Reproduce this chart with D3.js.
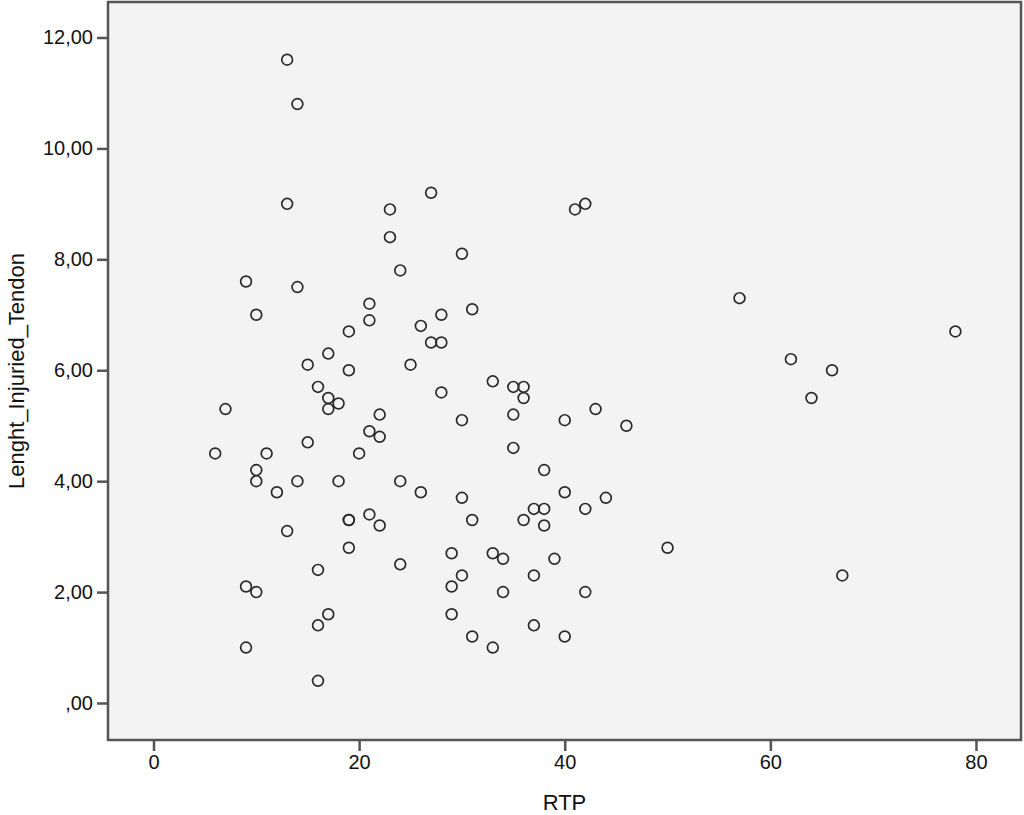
<!DOCTYPE html>
<meta charset="utf-8">
<script src="https://d3js.org/d3.v7.min.js"></script>
<style>
  body { margin: 0; background: #fff; }
  text { font-family: "Liberation Sans", Arial, Helvetica, sans-serif; fill: #111; }
</style>
<div id="my_dataviz"></div>
<script>
// values
var rtp = [13,14,13,27,23,41,42,23,30,24,9,14,57,21,31,10,28,21,26,19,78,27,28,17,62,15,25,19,66,33,
           16,35,36,28,17,36,64,18,7,17,43,22,35,30,40,46,21,22,15,35,6,11,20,10,38,10,14,18,24,12,
           26,40,30,44,37,38,42,21,19,19,31,36,22,38,13,19,50,29,33,34,39,24,16,30,37,67,9,29,10,34,
           42,17,29,16,37,31,40,9,33,16];
var lengthTendon = [11.6,10.8,9.0,9.2,8.9,8.9,9.0,8.4,8.1,7.8,7.6,7.5,7.3,7.2,7.1,7.0,7.0,6.9,6.8,6.7,6.7,6.5,6.5,6.3,6.2,6.1,6.1,6.0,6.0,5.8,
           5.7,5.7,5.7,5.6,5.5,5.5,5.5,5.4,5.3,5.3,5.3,5.2,5.2,5.1,5.1,5.0,4.9,4.8,4.7,4.6,4.5,4.5,4.5,4.2,4.2,4.0,4.0,4.0,4.0,3.8,
           3.8,3.8,3.7,3.7,3.5,3.5,3.5,3.4,3.3,3.3,3.3,3.3,3.2,3.2,3.1,2.8,2.8,2.7,2.7,2.6,2.6,2.5,2.4,2.3,2.3,2.3,2.1,2.1,2.0,2.0,
           2.0,1.6,1.6,1.4,1.4,1.2,1.2,1.0,1.0,0.4];
var xTicks = [0, 20, 40, 60, 80];
var yTicks = [0, 2, 4, 6, 8, 10, 12];
var yTickLabels = [",00", "2,00", "4,00", "6,00", "8,00", "10,00", "12,00"];

var data = rtp.map(function(d, i) { return {rtp: d, len: lengthTendon[i]}; });

var margin = {top: 2, right: 3, bottom: 75, left: 108},
    width = 1024 - margin.left - margin.right,
    height = 815 - margin.top - margin.bottom;

var svg = d3.select("#my_dataviz")
  .append("svg")
    .attr("width", 1024)
    .attr("height", 815)
  .append("g")
    .attr("transform", "translate(" + margin.left + "," + margin.top + ")");

var x = d3.scaleLinear()
  .domain([-4.426, 84.38])
  .range([0, width]);

var y = d3.scaleLinear()
  .domain([-0.667, 12.64])
  .range([height, 0]);

// plot background
svg.append("rect")
  .attr("width", width)
  .attr("height", height)
  .attr("fill", "#f3f3f3");

// X axis
var xAxis = svg.append("g")
  .attr("transform", "translate(0," + height + ")")
  .call(d3.axisBottom(x).tickValues(xTicks).tickSize(11).tickPadding(4).tickFormat(d3.format("d")));
xAxis.select(".domain").remove();
xAxis.selectAll("line").attr("stroke", "#555").attr("stroke-width", 2.5);
xAxis.selectAll("text").attr("font-size", "20px").attr("fill", "#111");

// Y axis
var yAxis = svg.append("g")
  .call(d3.axisLeft(y).tickValues(yTicks).tickSize(11).tickPadding(4)
    .tickFormat(function(d, i) { return yTickLabels[i]; }));
yAxis.select(".domain").remove();
yAxis.selectAll("line").attr("stroke", "#555").attr("stroke-width", 2.5);
yAxis.selectAll("text").attr("font-size", "20px").attr("fill", "#111");

// frame
svg.append("rect")
  .attr("width", width)
  .attr("height", height)
  .attr("fill", "none")
  .attr("stroke", "#555")
  .attr("stroke-width", 2.5);

// dots
svg.append("g")
  .selectAll("circle")
  .data(data)
  .enter()
  .append("circle")
    .attr("cx", function(d) { return x(d.rtp); })
    .attr("cy", function(d) { return y(d.len); })
    .attr("r", 5.4)
    .attr("fill", "none")
    .attr("stroke", "#2a2a2a")
    .attr("stroke-width", 1.7);

// axis titles
svg.append("text")
  .attr("text-anchor", "middle")
  .attr("x", width / 2)
  .attr("y", height + 70)
  .attr("font-size", "22px")
  .text("RTP");

svg.append("text")
  .attr("text-anchor", "middle")
  .attr("transform", "translate(" + (24 - margin.left) + "," + (height / 2) + ") rotate(-90)")
  .attr("font-size", "22px")
  .text("Lenght_Injuried_Tendon");
</script>
